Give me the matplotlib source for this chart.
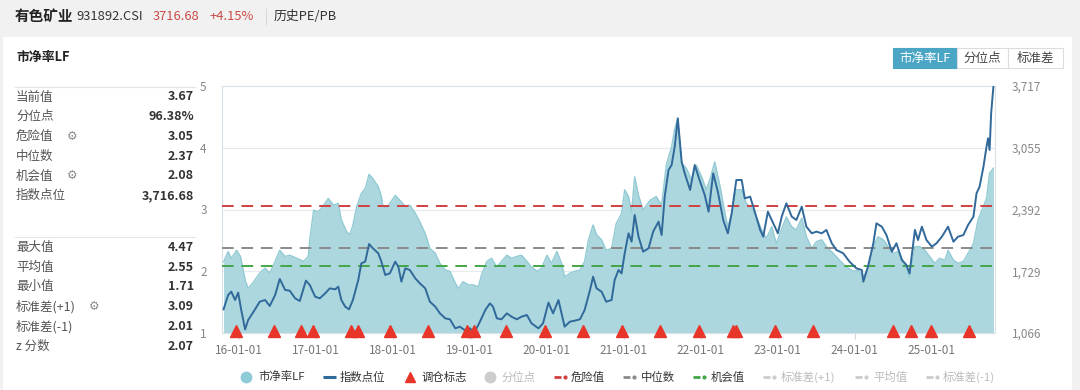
import matplotlib
matplotlib.use('Agg')
import matplotlib.pyplot as plt
from matplotlib.patches import Rectangle
from matplotlib.lines import Line2D

plt.rcParams['font.family'] = ['Noto Sans CJK SC', 'DejaVu Sans']

# ---------------- data ----------------
pb_dates = (
    [2015.80, 2015.86, 2015.90, 2015.97, 2016.02, 2016.08, 2016.12, 2016.19, 2016.27, 2016.34,
     2016.40, 2016.47, 2016.53, 2016.60, 2016.66, 2016.75, 2016.84, 2016.90, 2016.92, 2016.97]
    + [2017.03, 2017.10, 2017.16, 2017.23, 2017.29, 2017.33, 2017.40, 2017.44, 2017.48, 2017.53,
       2017.59, 2017.64, 2017.69, 2017.74, 2017.81, 2017.85, 2017.87, 2017.92, 2017.96]
    + [2018.03, 2018.09, 2018.16, 2018.22, 2018.29, 2018.35, 2018.42, 2018.48, 2018.55, 2018.61,
       2018.68, 2018.74, 2018.81, 2018.85, 2018.91, 2018.98]
    + [2019.04, 2019.11, 2019.15, 2019.22, 2019.28, 2019.35, 2019.41, 2019.48, 2019.54, 2019.61,
       2019.67, 2019.74, 2019.80, 2019.87, 2019.93]
    + [2020.00, 2020.06, 2020.13, 2020.19, 2020.23, 2020.30, 2020.36, 2020.43, 2020.49, 2020.54,
       2020.60, 2020.645, 2020.71, 2020.77, 2020.84, 2020.90, 2020.97]
    + [2021.01, 2021.06, 2021.10, 2021.14, 2021.19, 2021.25, 2021.34, 2021.42, 2021.49, 2021.55,
       2021.62, 2021.66, 2021.70, 2021.75, 2021.81, 2021.88, 2021.94]
    + [2022.01, 2022.07, 2022.12, 2022.18, 2022.25, 2022.31, 2022.35, 2022.40, 2022.46, 2022.53,
       2022.59, 2022.66, 2022.72, 2022.79, 2022.85, 2022.92, 2022.98]
    + [2023.05, 2023.11, 2023.18, 2023.24, 2023.31, 2023.37, 2023.44, 2023.50, 2023.57, 2023.63,
       2023.72, 2023.80, 2023.89, 2023.98]
    + [2024.04, 2024.11, 2024.17, 2024.24, 2024.30, 2024.37, 2024.43, 2024.50, 2024.56, 2024.63,
       2024.71, 2024.78, 2024.84, 2024.91, 2024.97]
    + [2025.04, 2025.10, 2025.17, 2025.21, 2025.28, 2025.34, 2025.41, 2025.47, 2025.54, 2025.60,
       2025.67, 2025.71, 2025.75, 2025.80]
)
pb_values = (
    [2.15, 2.32, 2.21, 2.34, 2.24, 1.86, 1.72, 1.83, 1.97, 2.05,
     1.97, 2.16, 2.34, 2.24, 2.26, 2.21, 2.16, 2.24, 2.51, 2.99]
    + [2.96, 3.07, 3.18, 3.07, 3.10, 2.83, 2.64, 2.59, 2.75, 3.05,
       3.26, 3.34, 3.57, 3.50, 3.37, 3.21, 3.05, 3.02, 3.10]
    + [3.23, 3.15, 3.05, 3.07, 2.94, 2.80, 2.61, 2.37, 2.29, 2.13,
       2.02, 2.00, 1.81, 1.72, 1.83, 1.78]
    + [1.78, 1.75, 1.94, 2.16, 2.21, 2.07, 2.16, 2.26, 2.21, 2.24,
       2.26, 2.16, 2.07, 2.00, 2.05]
    + [2.26, 2.13, 2.32, 2.13, 1.91, 1.97, 2.00, 2.02, 2.16, 2.51,
       2.75, 2.59, 2.51, 2.34, 2.37, 2.77, 2.94]
    + [3.32, 3.21, 2.96, 3.53, 3.23, 2.99, 3.15, 3.21, 3.07, 3.72,
       4.02, 4.31, 4.47, 3.75, 3.67, 3.48, 3.72]
    + [3.53, 3.32, 3.50, 3.77, 3.37, 2.96, 2.72, 2.94, 3.32, 3.32,
       3.10, 3.02, 2.88, 2.67, 2.53, 2.72, 2.45]
    + [2.69, 2.88, 2.72, 2.67, 2.86, 2.56, 2.37, 2.48, 2.51, 2.40,
       2.29, 2.18, 2.07, 2.00]
    + [2.02, 1.91, 2.05, 2.40, 2.56, 2.51, 2.40, 2.29, 2.32, 2.16,
       1.91, 2.40, 2.40, 2.34, 2.24]
    + [2.13, 2.21, 2.18, 2.34, 2.18, 2.13, 2.16, 2.29, 2.45, 2.83,
       3.05, 3.18, 3.59, 3.67]
)

idx_dates = (
    [2015.80, 2015.86, 2015.90, 2015.95, 2015.99, 2016.03, 2016.08, 2016.12, 2016.19, 2016.27,
     2016.34, 2016.40, 2016.47, 2016.53, 2016.60, 2016.66, 2016.73, 2016.79, 2016.87, 2016.92, 2016.99]
    + [2017.05, 2017.12, 2017.18, 2017.25, 2017.29, 2017.33, 2017.38, 2017.43, 2017.48, 2017.55,
       2017.59, 2017.64, 2017.69, 2017.74, 2017.81, 2017.85, 2017.90, 2017.96]
    + [2018.03, 2018.07, 2018.11, 2018.16, 2018.22, 2018.29, 2018.35, 2018.42, 2018.48, 2018.55,
       2018.61, 2018.68, 2018.74, 2018.81, 2018.87, 2018.93, 2019.00]
    + [2019.06, 2019.13, 2019.20, 2019.26, 2019.30, 2019.35, 2019.41, 2019.48, 2019.54, 2019.61,
       2019.67, 2019.74, 2019.80, 2019.89, 2019.95]
    + [2020.02, 2020.08, 2020.15, 2020.19, 2020.23, 2020.30, 2020.36, 2020.43, 2020.49, 2020.56,
       2020.60, 2020.645, 2020.71, 2020.77, 2020.84, 2020.88, 2020.93, 2020.97]
    + [2021.01, 2021.06, 2021.10, 2021.14, 2021.19, 2021.25, 2021.32, 2021.38, 2021.45, 2021.49,
       2021.53, 2021.58, 2021.62, 2021.66, 2021.70, 2021.75, 2021.79, 2021.86, 2021.92, 2021.99]
    + [2022.05, 2022.10, 2022.16, 2022.22, 2022.29, 2022.35, 2022.40, 2022.46, 2022.53, 2022.57,
       2022.64, 2022.70, 2022.77, 2022.81, 2022.87, 2022.94, 2023.00]
    + [2023.05, 2023.11, 2023.18, 2023.24, 2023.31, 2023.37, 2023.44, 2023.50, 2023.57, 2023.63,
       2023.70, 2023.76, 2023.85, 2023.93]
    + [2024.02, 2024.09, 2024.11, 2024.17, 2024.24, 2024.28, 2024.35, 2024.41, 2024.48, 2024.54,
       2024.61, 2024.67, 2024.71, 2024.78, 2024.82, 2024.87, 2024.93]
    + [2025.00, 2025.06, 2025.13, 2025.21, 2025.28, 2025.34, 2025.41, 2025.47, 2025.54, 2025.58,
       2025.62, 2025.67, 2025.71, 2025.73, 2025.75, 2025.77, 2025.80]
)
idx_values = (
    [1320, 1474, 1510, 1420, 1499, 1313, 1105, 1206, 1295, 1402,
     1420, 1356, 1474, 1646, 1528, 1520, 1438, 1409, 1628, 1581, 1456]
    + [1438, 1492, 1545, 1535, 1563, 1420, 1349, 1320, 1420, 1635,
       1814, 1832, 2021, 1975, 1921, 1832, 1689, 1706]
    + [1832, 1778, 1617, 1760, 1742, 1653, 1599, 1545, 1402, 1349,
       1277, 1223, 1213, 1116, 1134, 1098, 1116]
    + [1072, 1188, 1313, 1384, 1349, 1223, 1213, 1277, 1241, 1213,
       1241, 1259, 1170, 1116, 1170]
    + [1392, 1277, 1420, 1277, 1134, 1188, 1198, 1213, 1313, 1528,
       1671, 1545, 1510, 1402, 1420, 1635, 1742, 1706]
    + [1921, 2136, 2046, 2333, 2100, 1939, 1975, 2154, 2261, 2118,
       2529, 2816, 2869, 3066, 3370, 2905, 2780, 2601, 2869, 2690]
    + [2547, 2368, 2780, 2583, 2279, 2136, 2351, 2708, 2708, 2511,
       2529, 2368, 2172, 2100, 2368, 2243, 2136]
    + [2315, 2458, 2315, 2279, 2422, 2207, 2136, 2154, 2136, 2172,
       2029, 1957, 1921, 1832]
    + [1760, 1742, 1617, 1778, 2029, 2243, 2207, 2118, 1939, 2029,
       1850, 1796, 1706, 2172, 2064, 2207, 2064]
    + [1993, 2029, 2100, 2207, 2046, 2100, 2118, 2225, 2315, 2565,
       2637, 2851, 3066, 3156, 3030, 3424, 3716.68]
)

rebalance_dates = [2015.96, 2016.45, 2016.81, 2016.96, 2017.45, 2017.54, 2017.96, 2018.46,
                   2018.96, 2019.05, 2019.47, 2019.97, 2020.47, 2020.97, 2021.47, 2021.97,
                   2022.42, 2022.46, 2022.96, 2023.46, 2024.49, 2024.73, 2024.99, 2025.48]

danger_value = 3.05
median_value = 2.37
chance_value = 2.08

year_ticks = [2016, 2017, 2018, 2019, 2020, 2021, 2022, 2023, 2024, 2025]
year_labels = ['16-01-01', '17-01-01', '18-01-01', '19-01-01', '20-01-01',
               '21-01-01', '22-01-01', '23-01-01', '24-01-01', '25-01-01']
pb_ticks = [1, 2, 3, 4, 5]
idx_ticks = [1066, 1729, 2392, 3055, 3717]
idx_tick_labels = ['1,066', '1,729', '2,392', '3,055', '3,717']

stat_top_labels = ['当前值', '分位点', '危险值', '中位数', '机会值', '指数点位']
stat_top_values = ['3.67', '96.38%', '3.05', '2.37', '2.08', '3,716.68']
stat_bottom_labels = ['最大值', '平均值', '最小值', '标准差(+1)', '标准差(-1)', 'z 分数']
stat_bottom_values = ['4.47', '2.55', '1.71', '3.09', '2.01', '2.07']

# ---------------- colours ----------------
FILL = '#acd7de'
FILL_EDGE = '#93cbd5'
IDX = '#30699a'
RED = '#d0403f'
GRAY = '#8a8a8a'
GREEN = '#44a548'
TRI = '#e8352a'
TEAL_BTN = '#4ba6c6'

# ---------------- figure / background ----------------
fig = plt.figure(figsize=(10.8, 3.9), dpi=100)
fig.patch.set_facecolor('#f1f1f1')
bg = fig.add_axes([0, 0, 1, 1])
bg.set_xlim(0, 1080)
bg.set_ylim(390, 0)
bg.axis('off')
bg.add_patch(Rectangle((3, 37), 1069, 360, facecolor='white', edgecolor='none'))

# header
bg.text(15, 16, '有色矿业', fontsize=10.5, fontweight='bold', color='#222', va='center')
bg.text(76, 16, '931892.CSI', fontsize=9.3, color='#333', va='center')
bg.text(153, 16, '3716.68', fontsize=9.3, color='#cc4b47', va='center')
bg.text(209, 16, '+4.15%', fontsize=9.3, color='#cc4b47', va='center')
bg.plot([266, 266], [9, 24], color='#d8d8d8', lw=0.8)
bg.text(274, 16, '历史PE/PB', fontsize=9.3, color='#333', va='center')

# left stats panel
bg.text(16, 57, '市净率LF', fontsize=9.3, fontweight='bold', color='#222', va='center')
bg.plot([15, 195], [86.5, 86.5], color='#e4e4e4', lw=0.8)
bg.plot([15, 195], [236.5, 236.5], color='#e4e4e4', lw=0.8)
gear_rows = {'危险值': 67, '机会值': 67, '标准差(+1)': 89}
for i, (lab, val) in enumerate(zip(stat_top_labels, stat_top_values)):
    y = 97 + i * 19.7
    bg.text(16, y, lab, fontsize=9, color='#555', va='center')
    bg.text(194, y, val, fontsize=9, fontweight='bold', color='#333', va='center', ha='right')
    if lab in gear_rows:
        bg.text(gear_rows[lab], y, '⚙', fontsize=8.5, color='#888', va='center',
                family=['DejaVu Sans'])
for i, (lab, val) in enumerate(zip(stat_bottom_labels, stat_bottom_values)):
    y = 247.5 + i * 19.7
    bg.text(16, y, lab, fontsize=9, color='#555', va='center')
    bg.text(194, y, val, fontsize=9, fontweight='bold', color='#333', va='center', ha='right')
    if lab in gear_rows:
        bg.text(gear_rows[lab], y, '⚙', fontsize=8.5, color='#888', va='center',
                family=['DejaVu Sans'])

# buttons top right
btns = [('市净率LF', 893, 957, True), ('分位点', 957, 1008, False), ('标准差', 1008, 1063, False)]
for text, x0, x1, active in btns:
    bg.add_patch(Rectangle((x0, 48), x1 - x0, 20,
                           facecolor=TEAL_BTN if active else 'white',
                           edgecolor=TEAL_BTN if active else '#dcdcdc', lw=0.8))
    bg.text((x0 + x1) / 2, 58, text, fontsize=9, color='white' if active else '#444',
            ha='center', va='center')

# ---------------- main chart ----------------
ax = fig.add_axes([222 / 1080, 1 - 333 / 390, (995 - 222) / 1080, (333 - 86) / 390])
ax.set_facecolor('none')
ax.set_xlim(2015.78, 2025.82)
ax.set_ylim(1, 5)
ax.fill_between(pb_dates, pb_values, 1, color=FILL, lw=0, zorder=1)
ax.plot(pb_dates, pb_values, color=FILL_EDGE, lw=1.0, zorder=2)
for v, c in [(danger_value, RED), (median_value, GRAY), (chance_value, GREEN)]:
    ax.axhline(v, color=c, lw=1.4, dashes=(6, 4), zorder=3)

ax.set_yticks(pb_ticks)
ax.set_yticklabels([str(t) for t in pb_ticks])
ax.set_xticks(year_ticks)
ax.set_xticklabels(year_labels)
ax.grid(axis='y', color='#e6e9ee', lw=0.8, zorder=0)
ax.set_axisbelow(True)
for s in ['left', 'bottom', 'right', 'top']:
    ax.spines[s].set_color('#d9e0e8')
    ax.spines[s].set_linewidth(0.8)
ax.tick_params(axis='y', length=0, pad=11, labelsize=8.5, labelcolor='#888')
ax.tick_params(axis='x', length=4, color='#cfd8e3', pad=4, labelsize=8.5, labelcolor='#777')

ax2 = ax.twinx()
ax2.set_ylim(1066, 3717)
ax2.plot(idx_dates, idx_values, color=IDX, lw=1.4, zorder=4)
ax2.plot(rebalance_dates, [0.008] * len(rebalance_dates), ls='none', marker='^',
         ms=8.5, color=TRI, transform=ax2.get_xaxis_transform(), clip_on=False, zorder=6)
ax2.set_yticks(idx_ticks)
ax2.set_yticklabels(idx_tick_labels)
ax2.tick_params(axis='y', length=0, pad=12, labelsize=8.5, labelcolor='#888')
for s in ax2.spines.values():
    s.set_visible(False)

# ---------------- legend ----------------
ly = 377
leg_items = [
    ('circle', '#8fcbd6', 246, '市净率LF', 258, '#333'),
    ('line', IDX, 323, '指数点位', 340, '#333'),
    ('tri', TRI, 410, '调仓标志', 421, '#333'),
    ('circle', '#cccccc', 490, '分位点', 502, '#bbbbbb'),
    ('dashdot', RED, 554, '危险值', 571, '#333'),
    ('dashdot', GRAY, 623, '中位数', 641, '#333'),
    ('dashdot', GREEN, 693, '机会值', 711, '#333'),
    ('dashdot', '#cccccc', 763, '标准差(+1)', 781, '#bbbbbb'),
    ('dashdot', '#cccccc', 855, '平均值', 873, '#bbbbbb'),
    ('dashdot', '#cccccc', 926, '标准差(-1)', 943, '#bbbbbb'),
]
for kind, col, mx, label, tx, tcol in leg_items:
    if kind == 'circle':
        bg.plot([mx], [ly], marker='o', ms=7.5, color=col, ls='none')
    elif kind == 'line':
        bg.plot([mx, mx + 13], [ly, ly], color=col, lw=2.2, solid_capstyle='butt')
    elif kind == 'tri':
        bg.plot([mx], [ly - 0.5], marker='^', ms=7.5, color=col, ls='none')
    else:
        bg.plot([mx, mx + 7], [ly, ly], color=col, lw=2.0, solid_capstyle='butt')
        bg.plot([mx + 11], [ly], marker='o', ms=2, color=col, ls='none')
    bg.text(tx, ly, label, fontsize=8.2, color=tcol, va='center')

fig.savefig('out.png', dpi=100, facecolor=fig.get_facecolor())
